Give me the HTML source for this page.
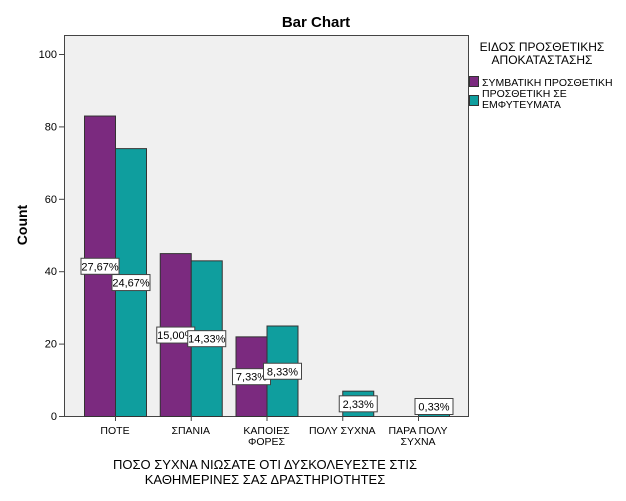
<!DOCTYPE html>
<html><head><meta charset="utf-8"><style>
body{margin:0;background:#fff;}
svg{display:block;font-family:"Liberation Sans",Arial,sans-serif;}
</style></head><body>
<svg id="chart" width="626" height="501" viewBox="0 0 626 501">
<rect x="0" y="0" width="626" height="501" fill="#fff"/>
<text x="316" y="27" text-anchor="middle" font-size="15" font-weight="bold">Bar Chart</text>
<rect x="64.5" y="35.5" width="404" height="381" fill="#f0f0f0" stroke="#444" stroke-width="1"/>
<g id="yaxis"></g>
<g id="bars"></g>
<g id="labels"></g>
<g id="xaxis"></g>
<text transform="translate(27,225) rotate(-90)" text-anchor="middle" font-size="14" font-weight="bold">Count</text>
<text x="265" y="469" text-anchor="middle" font-size="13"><tspan x="265" y="469">ΠΟΣΟ ΣΥΧΝΑ ΝΙΩΣΑΤΕ ΟΤΙ ΔΥΣΚΟΛΕΥΕΣΤΕ ΣΤΙΣ</tspan><tspan x="265" y="484">ΚΑΘΗΜΕΡΙΝΕΣ ΣΑΣ ΔΡΑΣΤΗΡΙΟΤΗΤΕΣ</tspan></text>
<g>
<text x="542" y="51" text-anchor="middle" font-size="12"><tspan x="542" y="51">ΕΙΔΟΣ ΠΡΟΣΘΕΤΙΚΗΣ</tspan><tspan x="542" y="64">ΑΠΟΚΑΤΑΣΤΑΣΗΣ</tspan></text>
<rect x="469.5" y="76.5" width="9" height="10" fill="#7b2a7f" stroke="#333"/>
<text x="482" y="86" font-size="10.5">ΣΥΜΒΑΤΙΚΗ ΠΡΟΣΘΕΤΙΚΗ</text>
<rect x="469.5" y="95.5" width="9" height="10" fill="#0f9e9e" stroke="#333"/>
<text x="482" y="98" font-size="10.5"><tspan x="482" y="97">ΠΡΟΣΘΕΤΙΚΗ ΣΕ</tspan><tspan x="482" y="108">ΕΜΦΥΤΕΥΜΑΤΑ</tspan></text>
</g>
</svg>
<script>
const categories=[["ΠΟΤΕ"],["ΣΠΑΝΙΑ"],["ΚΑΠΟΙΕΣ","ΦΟΡΕΣ"],["ΠΟΛΥ ΣΥΧΝΑ"],["ΠΑΡΑ ΠΟΛΥ","ΣΥΧΝΑ"]];
const conventional=[83,45,22,0,0];
const implant=[74,43,25,7,1];
const conventionalPct=["27,67%","15,00%","7,33%","",""];
const implantPct=["24,67%","14,33%","8,33%","2,33%","0,33%"];
const yTicks=[0,20,40,60,80,100];

const NS="http://www.w3.org/2000/svg";
const y0=416,pxPerUnit=3.62,firstCenter=115,step=75.75,bw=31;
const yS=v=>y0-v*pxPerUnit;
const xC=i=>firstCenter+i*step;
function mk(tag,attrs,parent){const e=document.createElementNS(NS,tag);for(const k in attrs)e.setAttribute(k,attrs[k]);parent.appendChild(e);return e;}
const yaxis=document.getElementById('yaxis'),bars=document.getElementById('bars'),labels=document.getElementById('labels'),xaxis=document.getElementById('xaxis');
yTicks.forEach(t=>{
 const l=mk('line',{x1:59,x2:64,y1:yS(t)+0.5,y2:yS(t)+0.5,stroke:'#444'},yaxis);
 
 
 const tx=mk('text',{x:57,y:yS(t)+4,'text-anchor':'end','font-size':11},yaxis);
 tx.textContent=t;
 
 
});
function label(cx,v,txt){
 if(!txt)return;
 const w=38,h=16;
 let cy=yS(v/2);
 if(cy+h/2>y0-2)cy=y0-2-h/2;
 let x=cx-w/2; if(x+w>466)x=466-w;
 const g=mk('g',{},labels);
 
 
 mk('rect',{x:x+0.5,y:cy-h/2+0.5,width:w,height:h,fill:'#fff',stroke:'#444'},g);
 const t=mk('text',{x:x+w/2+0.5,y:cy+4.5,'text-anchor':'middle','font-size':11},g);
 t.textContent=txt;
}
categories.forEach((c,i)=>{
 const cx=xC(i);
 if(conventional[i]>0){
  const r=mk('rect',{x:cx-bw+0.5,y:yS(conventional[i])+0.5,width:bw,height:conventional[i]*pxPerUnit,fill:'#7b2a7f',stroke:'#333'},bars);
  
  
 }
 if(implant[i]>0){
  const r=mk('rect',{x:cx+0.5,y:yS(implant[i])+0.5,width:bw,height:implant[i]*pxPerUnit,fill:'#0f9e9e',stroke:'#333'},bars);
  
  
 }
 const tk=mk('line',{x1:cx+0.5,x2:cx+0.5,y1:416,y2:421,stroke:'#444'},xaxis);
 
 
 const t=mk('text',{'text-anchor':'middle','font-size':10.5},xaxis);
 
 
 c.forEach((line,j)=>{const s=mk('tspan',{x:cx,y:434+j*11},t);s.textContent=line;});
});
categories.forEach((c,i)=>{
 label(xC(i)-bw/2,conventional[i],conventionalPct[i]);
 label(xC(i)+bw/2,implant[i],implantPct[i]);
});
</script>
</body></html>
